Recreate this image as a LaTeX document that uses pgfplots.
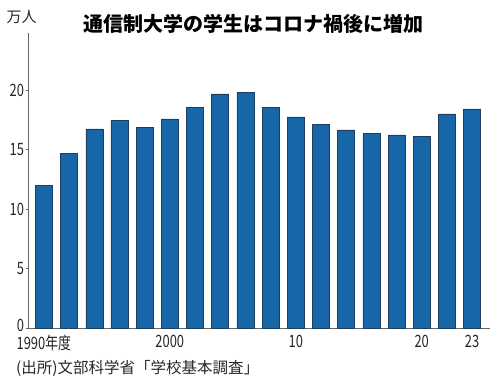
\documentclass[border=0pt]{standalone}
\usepackage{fontspec}
\usepackage{pgfplots}
\pgfplotsset{compat=1.18}
\setmainfont{Noto Sans CJK JP}
\newfontfamily\tickfont[FakeStretch=0.76]{Noto Sans CJK JP}
\definecolor{barblue}{HTML}{1767A8}
\definecolor{bardark}{HTML}{1E3E60}
\definecolor{axgray}{HTML}{666666}
\begin{document}
\begin{tikzpicture}[x=1pt,y=1pt]
\useasboundingbox (0,0) rectangle (500,382);
\begin{axis}[
  at={(28pt,53.7pt)}, anchor=south west,
  scale only axis, width=462pt, height=295.3pt,
  xmin=-0.63, xmax=17.71, ymin=0, ymax=24.8,
  axis x line=bottom, axis y line=left,
  axis line style={axgray, line width=0.8pt, -},
  ytick={0,5,10,15,20},
  yticklabels={\raisebox{5pt}{0},5,10,15,20},
  xtick={0,5,10,15,17},
  xticklabels={1990年度,2000,10,20,23},
  major x tick style={draw=none},
  major y tick style={axgray, line width=0.6pt},
  major tick length=3pt,
  tick label style={font=\fontsize{17}{17}\tickfont, text=black!85},
  /pgf/number format/assume math mode=true,
  yticklabel style={xshift=1pt},
  xticklabel style={yshift=-1.5pt},
]
\addplot[ybar, bar width=0.675, fill=barblue, draw=bardark, line width=0.5pt]
coordinates {
(0,12.0) (1,14.67) (2,16.75) (3,17.48) (4,16.86) (5,17.59) (6,18.57) (7,19.69) (8,19.83)
(9,18.57) (10,17.76) (11,17.11) (12,16.66) (13,16.35) (14,16.24) (15,16.10) (16,18.01) (17,18.43)
};
\end{axis}
\node[font=\fontsize{20}{20}\selectfont\bfseries] at (253,358) {通信制大学の学生はコロナ禍後に増加};
\node[font=\fontsize{15}{15}\selectfont, text=black!85] at (21.5,365) {万人};
\node[font=\fontsize{15.5}{15.5}\selectfont, text=black!85, anchor=west, inner sep=0pt] at (16,14) {(出所)文部科学省「学校基本調査」};
\end{tikzpicture}
\end{document}
